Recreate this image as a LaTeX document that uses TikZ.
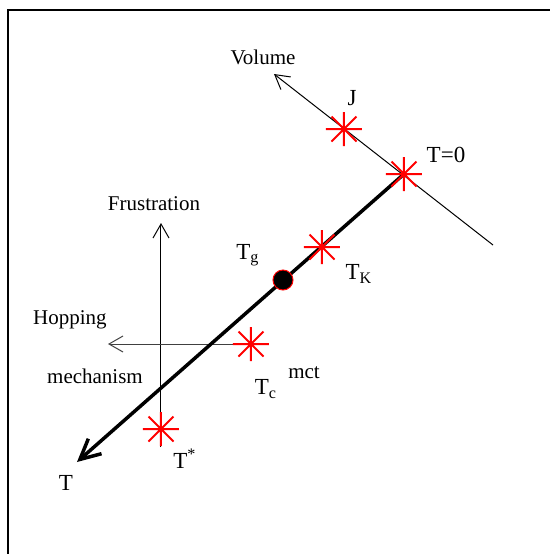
\documentclass[tikz,border=0pt]{standalone}
\usepackage{fontspec}
\setmainfont{Liberation Serif}
\usepackage{tikz}
\usetikzlibrary{arrows.meta,positioning,calc}

\tikzset{
  axisline/.style={line width=0.5pt,-{Straight Barb[length=7pt,width=8pt]}},
  tline/.style={line width=1.75pt,-{Straight Barb[length=10pt,width=10pt]}},
  lbl/.style={font=\fontsize{10.5}{12}\selectfont,inner sep=0pt},
  tlbl/.style={font=\fontsize{11.5}{13}\selectfont,inner sep=0pt},
  tgdot/.style={circle,fill=black,draw=red,line width=0.5pt,minimum size=10pt,inner sep=0pt},
  starmark/.pic={
    \draw[red,line width=1pt] (-18,0) -- (18,0) (0,-17) -- (0,17)
      (-12.5,-12.5) -- (12.5,12.5) (-12.5,12.5) -- (12.5,-12.5);
  }
}

\begin{document}
\begin{tikzpicture}[x=0.5pt,y=-0.5pt]
  \useasboundingbox (0,0) rectangle (550,554);
  % frame
  \draw[line width=0.75pt] (8,554) -- (8,10) -- (550,10);

  % points on the axes
  \coordinate (Tzero) at (404,174);
  \coordinate (J) at (344,129);
  \coordinate (TK) at (322,247);
  \coordinate (Tc) at (251,344);
  \coordinate (Tstar) at (161,429);
  \coordinate (Tend) at (77,462);
  \coordinate (Vlow) at (493,245);
  \coordinate (Vtip) at (274,74);
  \coordinate (Fbot) at (161,447);
  \coordinate (Ftip) at (161,223);
  \coordinate (Htip) at (108,344);

  % axes
  \draw[axisline] (Vlow) -- (Vtip);
  \draw[axisline] (Fbot) -- (Ftip);
  \draw[axisline,black!75] (Tc) -- (Htip);
  \draw[tline] (Tzero) -- (Tend);

  \foreach \s in {J,Tzero,TK,Tc,Tstar}
    \pic at (\s) {starmark};
  \node[tgdot] (Tg) at (283,280) {};

  % labels
  \node[lbl] (volume) at (263,57) {Volume};
  \node[lbl] (frust) at (154,204) {Frustration};
  \node[lbl] (hop) at (70,320) {Hopping};
  \node[lbl] (mech) at (95,376) {mechanism};
  \node[lbl] (mct) at (304,373) {mct};
  \node[tlbl] (lJ) at (352,98) {J};
  \node[tlbl] (lTzero) at (446,155) {T=0};
  \node[tlbl] (lTg) at (248,255) {T\textsubscript{g}};
  \node[tlbl] (lTK) at (359,274) {T\textsubscript{K}};
  \node[tlbl] (lTc) at (266,389) {T\textsubscript{c}};
  \node[tlbl] (lTstar) at (185,459) {T\textsuperscript{*}};
  \node[tlbl] (lT) at (66,483) {T};
\end{tikzpicture}
\end{document}
